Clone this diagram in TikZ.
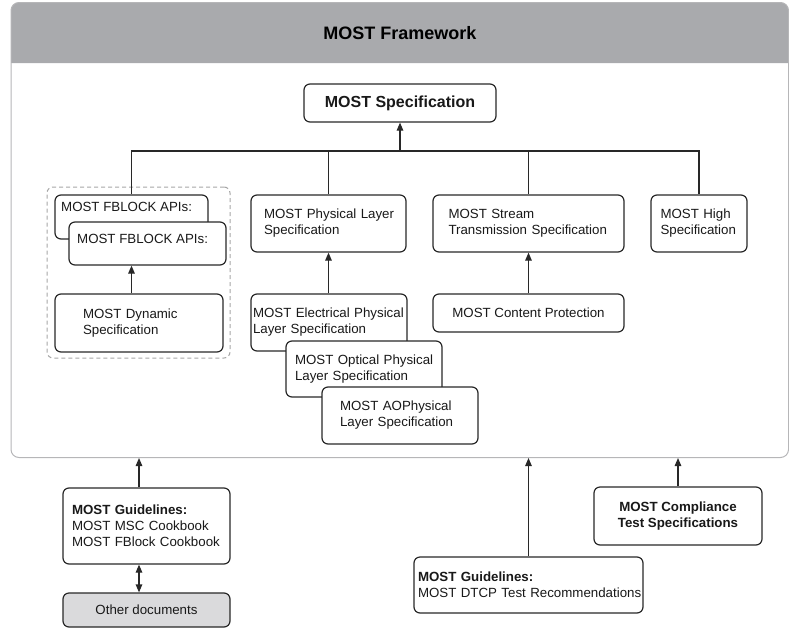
\documentclass[tikz,border=0pt]{standalone}
\usepackage{fontspec}
\setmainfont{Liberation Sans}
\usetikzlibrary{arrows.meta, calc}

\definecolor{linegray}{RGB}{40,40,40}
\definecolor{framegray}{RGB}{182,182,184}
\definecolor{headgray}{RGB}{169,170,173}
\definecolor{docgray}{RGB}{218,218,220}
\newcommand{\boxfont}{\fontsize{13.3}{16}\selectfont}

\begin{document}
\begin{tikzpicture}[x=1pt, y=-1pt,
    box/.style={draw=linegray, line width=1.2pt, rounded corners=6pt, fill=white, inner sep=0pt, font=\boxfont, text=black!90},
    lbox/.style={box, align=left},
    label/.style={inner sep=0pt, font=\boxfont, text=black!90},
    link/.style={draw=linegray, line width=1.2pt},
    arr/.style={link, -{Triangle[length=8pt, width=6.5pt]}},
    arrs/.style={link, {Triangle[length=8pt, width=6.5pt]}-{Triangle[length=8pt, width=6.5pt]}}]
    \useasboundingbox (0,0) rectangle (789,629);
    % Draw the framework frame with its grey header
    \fill[headgray, rounded corners=8pt] (11,63) -- (11,2.5) -- (788.5,2.5) [sharp corners] -- (788.5,63) -- cycle;
    \node[draw=framegray, line width=1pt, rounded corners=8pt, minimum width=777.5pt, minimum height=455pt, inner sep=0pt] (frame) at (399.75,230) {};
    \node[label, font=\bfseries\fontsize{18}{21}\selectfont, text=black] (title) at (400,33) {MOST Framework};
    % Draw the dashed group round the FBLOCK boxes
    \node[draw=gray!70, line width=1pt, dash pattern=on 4pt off 3pt, rounded corners=6pt, minimum width=183pt, minimum height=171pt, inner sep=0pt] (group) at (138.5,272.5) {};
    % Draw the specification boxes
    \node[box, font=\bfseries\fontsize{16}{19}\selectfont, minimum width=192pt, minimum height=38pt] (spec) at (400,103) {MOST Specification};
    \node[box, minimum width=153pt, minimum height=44pt] (fbback) at (131.5,217) {};
    \node[label, anchor=west] (fbbacktxt) at (61,207) {MOST FBLOCK APIs:};
    \node[box, minimum width=157pt, minimum height=43pt] (fbfront) at (147.5,243.5) {};
    \node[label, anchor=west] (fbfronttxt) at (77,239) {MOST FBLOCK APIs:};
    \node[lbox, minimum width=168pt, minimum height=58pt, text width=112pt, inner xsep=28pt] (dyn) at (139,323) {MOST Dynamic\\Specification};
    \node[lbox, minimum width=155pt, minimum height=57pt, text width=129pt, inner xsep=13pt] (phys) at (328.5,223.5) {\mbox{MOST Physical Layer}\\Specification};
    \node[lbox, minimum width=191pt, minimum height=57pt, text width=160pt, inner xsep=15.5pt] (stream) at (528.5,223.5) {MOST Stream\\\mbox{Transmission Specification}};
    \node[lbox, minimum width=96pt, minimum height=57pt, text width=77pt, inner xsep=9.5pt] (high) at (699,223.5) {MOST High\\Specification};
    \node[box, minimum width=191pt, minimum height=38pt] (cp) at (528.5,313) {MOST Content Protection};
    % Draw the stacked physical layer boxes
    \node[lbox, minimum width=156pt, minimum height=57pt, text width=152pt, inner xsep=2pt] (elec) at (329,322.5) {\mbox{MOST Electrical Physical}\\Layer Specification};
    \node[lbox, minimum width=156pt, minimum height=56pt, text width=138pt, inner xsep=9pt] (opt) at (364,369) {\mbox{MOST Optical Physical}\\Layer Specification};
    \node[lbox, minimum width=156pt, minimum height=57pt, text width=120pt, inner xsep=18pt] (ao) at (400,415.5) {MOST AOPhysical\\Layer Specification};
    % Draw the documents outside the framework
    \node[lbox, minimum width=167pt, minimum height=76pt, text width=149pt, inner xsep=9pt] (guide) at (146.5,526) {\textbf{MOST Guidelines:}\\MOST MSC Cookbook\\\mbox{MOST FBlock Cookbook}};
    \node[box, fill=docgray, minimum width=167pt, minimum height=34pt] (other) at (146.5,610) {Other documents};
    \node[lbox, minimum width=229pt, minimum height=56pt, text width=221pt, inner xsep=4pt] (dtcp) at (528.5,585) {\textbf{MOST Guidelines:}\\\mbox{MOST DTCP Test Recommendations}};
    \node[box, font=\bfseries\boxfont, align=center, minimum width=168pt, minimum height=58pt] (comp) at (678,516) {MOST Compliance\\Test Specifications};
    % Draw the bus up to the specification
    \coordinate (bus) at (400,151);
    \draw[arr] (bus) -- (spec.south);
    \draw[link] (fbback.north) |- (bus) -| (high.north);
    \draw[link] (phys.north) -- (phys.north |- bus);
    \draw[link] (stream.north) -- (stream.north |- bus);
    % Draw the arrows inside the framework
    \draw[arr] (dyn.north -| fbback.south) -- (fbback.south |- fbfront.south);
    \draw[arr] (elec.north -| phys.south) -- (phys.south);
    \draw[arr] (cp.north) -- (stream.south);
    % Draw the arrows into the framework
    \draw[arr] ([xshift=-7.5pt]guide.north) -- ([xshift=-7.5pt]guide.north |- frame.south);
    \draw[arrs] ([xshift=-7.5pt]guide.south) -- ([xshift=-7.5pt]guide.south |- other.north);
    \draw[arr] (dtcp.north) -- (dtcp.north |- frame.south);
    \draw[arr] (comp.north) -- (comp.north |- frame.south);
\end{tikzpicture}
\end{document}
